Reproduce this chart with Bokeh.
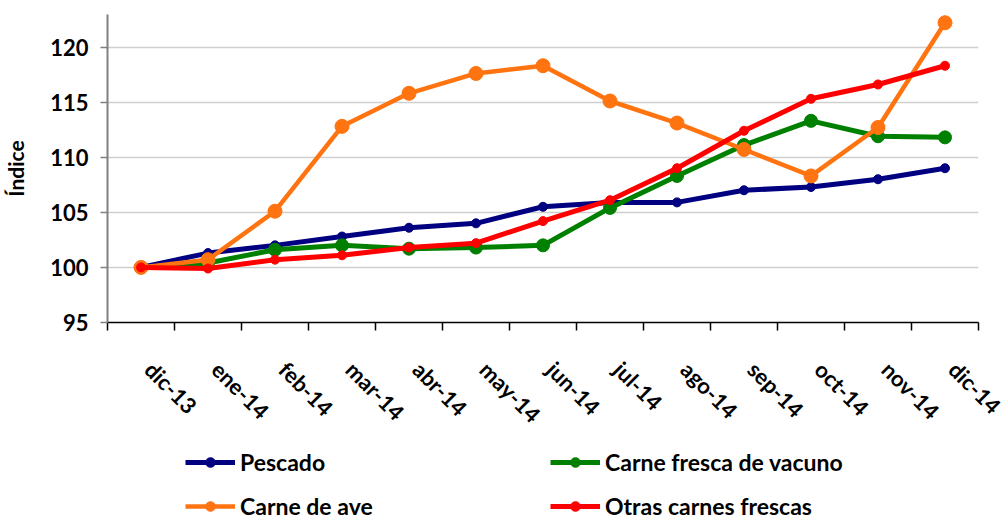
import math
from bokeh.plotting import figure
from bokeh.layouts import column
from bokeh.models import (FixedTicker, Range1d, Legend, LegendItem, ColumnDataSource)
from bokeh.embed import file_html
from bokeh.resources import INLINE

months = ["dic-13", "ene-14", "feb-14", "mar-14", "abr-14", "may-14", "jun-14",
          "jul-14", "ago-14", "sep-14", "oct-14", "nov-14", "dic-14"]
pescado = [100.0, 101.3, 102.0, 102.8, 103.6, 104.0, 105.5, 105.9, 105.9, 107.0, 107.3, 108.0, 109.0]
vacuno = [100.0, 100.4, 101.6, 102.0, 101.7, 101.8, 102.0, 105.4, 108.3, 111.1, 113.3, 111.9, 111.8]
ave = [100.0, 100.7, 105.1, 112.8, 115.8, 117.6, 118.3, 115.1, 113.1, 110.7, 108.3, 112.7, 122.2]
otras = [100.0, 99.9, 100.7, 101.1, 101.8, 102.2, 104.2, 106.1, 109.0, 112.4, 115.3, 116.6, 118.3]
y_ticks = [95, 100, 105, 110, 115, 120]

series = [
    ("Pescado", pescado, "#000080", 5, 9),
    ("Carne fresca de vacuno", vacuno, "#008000", 5, 13),
    ("Carne de ave", ave, "#FF7410", 4.5, 14),
    ("Otras carnes frescas", otras, "#FF0000", 5, 9),
]
legend_order = ["Pescado", "Carne de ave", "Carne fresca de vacuno", "Otras carnes frescas"]

FONT = "Lato"
n = len(months)
xs = [i + 0.5 for i in range(n)]
label_pos = [x + 0.12 for x in xs]   # rotated labels start slightly right of the category centre

p = figure(width=1007, height=440, output_backend="svg", toolbar_location=None,
           x_range=Range1d(0, n), y_range=Range1d(95, 122.95),
           min_border_left=107, min_border_right=29, min_border_top=14, min_border_bottom=113)
p.outline_line_color = None

p.xaxis.ticker = FixedTicker(ticks=label_pos, minor_ticks=list(range(n + 1)))
p.xaxis.major_label_overrides = {x: m for x, m in zip(label_pos, months)}
p.xaxis.major_tick_line_color = None
p.xaxis.major_tick_out = 0
p.xaxis.minor_tick_out = 8
p.xaxis.minor_tick_in = 0
p.xaxis.minor_tick_line_color = "black"
p.xaxis.minor_tick_line_width = 1.5
p.xaxis.axis_line_color = "black"
p.xaxis.axis_line_width = 1.5
p.xaxis.major_label_orientation = -math.pi / 4
p.xaxis.major_label_standoff = 35
p.xaxis.major_label_text_font = FONT
p.xaxis.major_label_text_font_style = "bold"
p.xaxis.major_label_text_font_size = "22px"
p.xaxis.major_label_text_color = "black"

p.yaxis.ticker = FixedTicker(ticks=y_ticks)
p.yaxis.minor_tick_line_color = None
p.yaxis.major_tick_out = 7
p.yaxis.major_tick_in = 0
p.yaxis.major_tick_line_color = "#808080"
p.yaxis.major_tick_line_width = 1.5
p.yaxis.axis_line_color = "#808080"
p.yaxis.axis_line_width = 2
p.yaxis.major_label_standoff = 12
p.yaxis.major_label_text_font = FONT
p.yaxis.major_label_text_font_style = "bold"
p.yaxis.major_label_text_font_size = "22px"
p.yaxis.major_label_text_color = "black"
p.yaxis.axis_label = "Índice"
p.yaxis.axis_label_text_font = FONT
p.yaxis.axis_label_text_font_style = "bold"
p.yaxis.axis_label_text_font_size = "21px"
p.yaxis.axis_label_text_color = "black"
p.yaxis.axis_label_standoff = 19

p.xgrid.grid_line_color = None
p.ygrid.ticker = FixedTicker(ticks=y_ticks[1:])
p.ygrid.grid_line_color = "#CFCFCF"
p.ygrid.grid_line_width = 1.5

sources = {}
for name, vals, color, lw, ms in series:
    src = ColumnDataSource(dict(x=xs, y=vals))
    sources[name] = src
    p.line("x", "y", source=src, line_color=color, line_width=lw)
    p.scatter("x", "y", source=src, size=ms, fill_color=color, line_color=color)

# legend strip below the chart (its own plot; the series lie outside its view)
lg = figure(width=1007, height=80, output_backend="svg", toolbar_location=None,
            x_axis_location=None, y_axis_location=None,
            x_range=Range1d(-2, -1), y_range=Range1d(0, 1),
            min_border_left=0, min_border_right=0, min_border_top=0, min_border_bottom=0)
lg.outline_line_color = None
lg.grid.visible = False
item_map = {}
for name, vals, color, lw, ms in series:
    src = sources[name]
    r1 = lg.line("x", "y", source=src, line_color=color, line_width=lw)
    r2 = lg.scatter("x", "y", source=src, size=ms, fill_color=color, line_color=color)
    item_map[name] = LegendItem(label=name, renderers=[r1, r2])
items = [item_map[k] for k in legend_order]

legend = Legend(items=items, ncols=2, location=(78, 0),
                glyph_width=50, glyph_height=24, label_height=22, label_width=294,
                label_standoff=5, spacing=16, padding=0, margin=0,
                label_text_font=FONT, label_text_font_style="bold",
                label_text_font_size="23px", label_text_color="black",
                border_line_alpha=0, background_fill_alpha=0)
lg.add_layout(legend, "center")

layout = column(p, lg, spacing=0)
open("out.html", "w").write(file_html(layout, INLINE))
